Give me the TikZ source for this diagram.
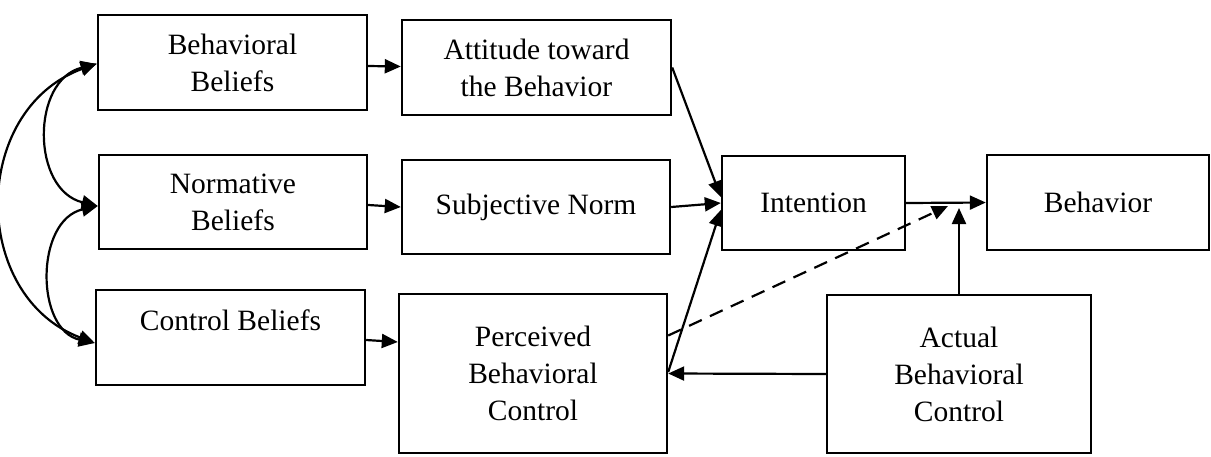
\documentclass[tikz,border=0pt]{standalone}
\usepackage{fontspec}
\setmainfont{Liberation Serif}
\usetikzlibrary{arrows.meta,calc}
\begin{document}
\begin{tikzpicture}[x=1pt,y=-1pt,
  box/.style={draw,line width=2.4pt,rectangle,inner sep=0pt,align=center,
    font=\fontsize{29.5}{37}\selectfont},
  arr/.style={line width=2.2pt,-{Triangle[length=16pt,width=14pt]}},
  darr/.style={line width=2.2pt,{Triangle[length=16pt,width=14pt]}-{Triangle[length=16pt,width=14pt]}},
  lbl/.style={font=\fontsize{29.5}{37}\selectfont,inner sep=0pt}]
\useasboundingbox (0,0) rectangle (1211,456);
\node[box,minimum width=269pt,minimum height=95pt] (bb) at (232.5,62.5) {Behavioral\\Beliefs};
\node[box,minimum width=268pt,minimum height=94pt] (nb) at (233,202) {Normative\\Beliefs};
\node[box,minimum width=269pt,minimum height=95pt] (cb) at (230.5,337.5) {};
\node[lbl,anchor=base] (cbt) at (230.5,330) {Control Beliefs};
\node[box,minimum width=269pt,minimum height=95pt] (att) at (536.5,67.5) {Attitude toward\\the Behavior};
\node[box,minimum width=268pt,minimum height=94pt] (sn) at (536,207) {Subjective Norm};
\node[box,minimum width=268pt,minimum height=159pt] (pbc) at (533,373.5) {Perceived\\Behavioral\\Control};
\node[box,minimum width=183pt,minimum height=94pt] (int) at (813.5,203) {Intention};
\node[box,minimum width=222pt,minimum height=95pt] (beh) at (1098,202.5) {Behavior};
\node[box,minimum width=264pt,minimum height=158pt] (abc) at (959,374) {Actual\\Behavioral\\Control};
\coordinate (dtip) at (948,206);
\coordinate (vtip) at (959,208);
% left curves
\draw[darr] ($(bb.west)+(0,1.5)$) .. controls (31,80) and (31,190) .. ($(nb.west)+(0,4)$);
\draw[darr] ($(nb.west)+(0,4)$) .. controls (35,220) and (35,330) .. ($(cb.west)+(0,5.5)$);
\draw[darr] ($(bb.west)+(0,1)$) .. controls (-30,110) and (-30,296) .. ($(cb.west)+(0,5.5)$);
% beliefs to determinants
\draw[arr] ($(bb.east)+(0,3.5)$) -- ($(att.west)+(0,-1)$);
\draw[arr] ($(nb.east)+(0,3)$) -- ($(sn.west)+(0,0)$);
\draw[arr] ($(cb.east)+(0,2.5)$) -- ($(pbc.west)+(0,-31.5)$);
% to intention
\draw[arr] (att.east) -- ($(int.west)+(0,-6)$);
\draw[arr] (sn.east) -- (int.west);
\draw[arr] ($(pbc.east)+(0,-1.5)$) -- ($(int.west)+(0,7)$);
\draw[arr,dash pattern=on 14pt off 9pt] ($(pbc.east)+(0,-38)$) -- (dtip);
\draw[arr] (int.east) -- (beh.west);
\draw[arr] (abc.north) -- (vtip);
\draw[arr] (abc.west) -- (pbc.east);
\end{tikzpicture}
\end{document}
